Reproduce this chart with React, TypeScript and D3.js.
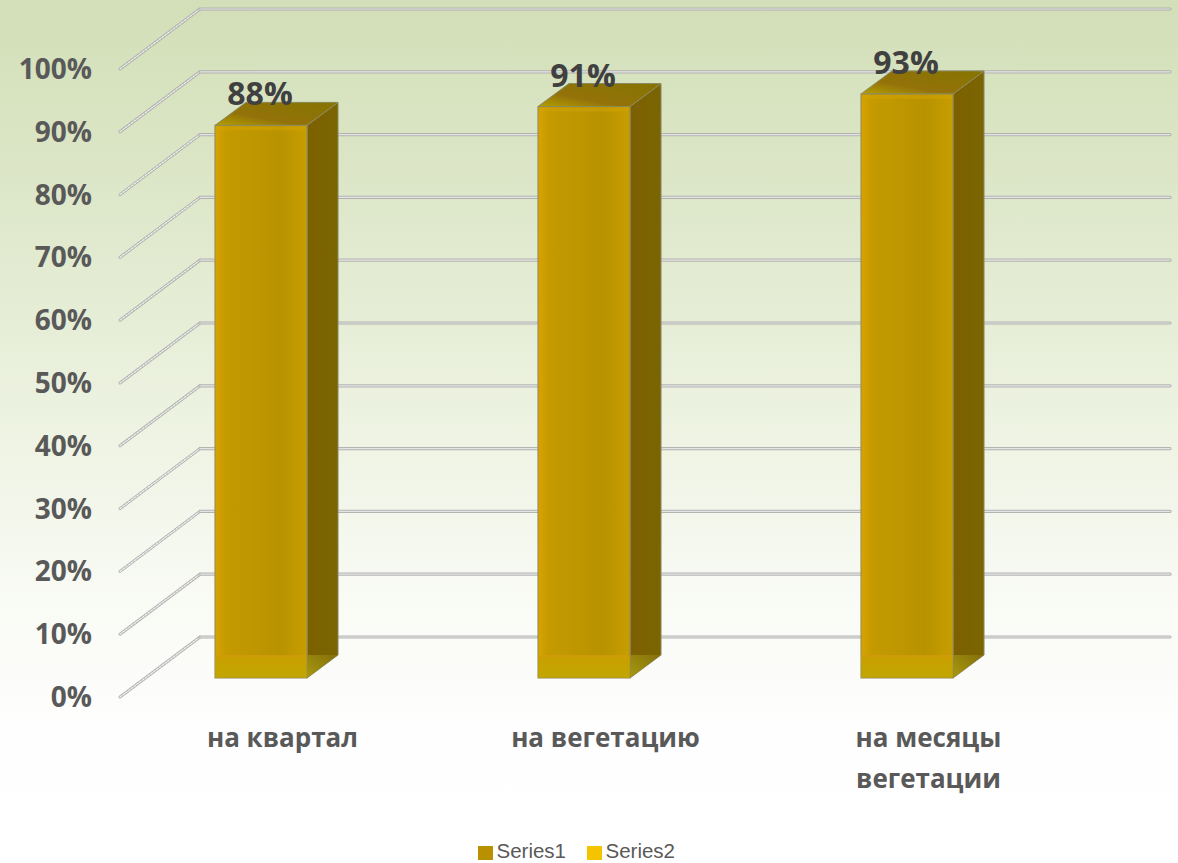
import React from "react";
import * as d3 from "d3";

const categories = ["на квартал", "на вегетацию", "на месяцы вегетации"];
const categoryLines = [["на квартал"], ["на вегетацию"], ["на месяцы", "вегетации"]];
const series1 = [0.88, 0.91, 0.93];
const valueLabels = ["88%", "91%", "93%"];
const ticks = [0, 0.1, 0.2, 0.3, 0.4, 0.5, 0.6, 0.7, 0.8, 0.9, 1];
const legendItems = ["Series1", "Series2"];
const legendColors = ["#b89000", "#f5c400"];

const W = 1178;
const H = 863;
const FONT = "'Open Sans', 'Noto Sans', sans-serif";

// Oblique projection: depth shifts a point right and up.
const wallDx = 80;
const wallDy = -60;
const barDx = 31;
const barDy = -23;
const gridLeft = 120;
const gridRight = 1170;

const y = d3.scaleLinear().domain([0, 1]).range([697, 69]);
const barBase = 678;
const barY = d3.scaleLinear().domain([0, 1]).range([barBase, barBase - 628]);
const x = d3.scaleBand<string>().domain(categories).range([99.5, 1068.5]).paddingInner(0.715).paddingOuter(0.3575);

function poly(pts: [number, number][]) {
  const p = d3.path();
  pts.forEach(([a, b], i) => (i ? p.lineTo(a, b) : p.moveTo(a, b)));
  p.closePath();
  return p.toString();
}

function GridLine({ t }: { t: number }) {
  const y0 = y(t);
  const backY = y0 + wallDy;
  const wall = `M${gridLeft},${y0}L${gridLeft + wallDx},${backY}`;
  const back = `M${gridLeft + wallDx},${backY}L${gridRight},${backY}`;
  return (
    <g fill="none" strokeLinecap="round">
      <path d={wall} stroke="#a6a6a6" strokeWidth={3} opacity={0.85} />
      <path d={wall} stroke="#f2f2f2" strokeWidth={1.2} strokeDasharray="2 1.5" />
      <path d={back} stroke="#adadad" strokeWidth={3.2} opacity={0.9} />
      <path d={back} stroke="#e4e4e4" strokeWidth={1.2} />
    </g>
  );
}

function Bar({ i }: { i: number }) {
  const cat = categories[i];
  const x0 = x(cat)!;
  const x1 = x0 + x.bandwidth();
  const top = barY(series1[i]);
  const bandTop = barBase - 22;
  return (
    <g>
      <path
        d={poly([[x1, top], [x1 + barDx, top + barDy], [x1 + barDx, barBase + barDy], [x1, barBase]])}
        fill="url(#sideFace)"
        stroke="#8d8a60"
        strokeWidth={1}
      />
      <path
        d={poly([[x0, top], [x0 + barDx, top + barDy], [x1 + barDx, top + barDy], [x1, top]])}
        fill="url(#topFace)"
        stroke="#8d8a60"
        strokeWidth={1}
      />
      {/* floor reflection on the lower part of the side face */}
      <path d={poly([[x1, barBase], [x1 + barDx - 1, barBase + barDy], [x1, barBase + barDy]])} fill="url(#sideFloor)" />
      <rect x={x0} y={top} width={x1 - x0} height={barBase - top} fill="url(#frontFace)" stroke="#8d8a60" strokeWidth={1} />
      <rect x={x0 + 1} y={top + 1} width={x1 - x0 - 2} height={4} fill="#d2a300" opacity={0.5} />
      <rect x={x0 + 0.5} y={bandTop} width={x1 - x0 - 1} height={barBase - bandTop - 0.5} fill="url(#floorBand)" />
      <rect x={x0 + 0.5} y={bandTop - 1} width={x1 - x0 - 1} height={2} fill="#d49a10" opacity={0.7} />
    </g>
  );
}

export default function App() {
  return (
    <svg
      width={W}
      height={H}
      viewBox={`0 0 ${W} ${H}`}
      style={{ position: "absolute", left: 0, top: 0, display: "block" }}
    >
      <defs>
        <linearGradient id="bg" x1="0" y1="0" x2="0" y2="1">
          <stop offset="0" stopColor="#d3dfb8" />
          <stop offset="0.2" stopColor="#dce6c7" />
          <stop offset="0.45" stopColor="#ebf1de" />
          <stop offset="0.7" stopColor="#f9fbf5" />
          <stop offset="0.85" stopColor="#fefefe" />
          <stop offset="1" stopColor="#ffffff" />
        </linearGradient>
        <linearGradient id="frontFace" x1="0" y1="0" x2="1" y2="0">
          <stop offset="0" stopColor="#d9a300" />
          <stop offset="0.12" stopColor="#c49a00" />
          <stop offset="0.7" stopColor="#b89300" />
          <stop offset="1" stopColor="#c79e00" />
        </linearGradient>
        <linearGradient id="sideFace" x1="0" y1="0" x2="1" y2="0">
          <stop offset="0" stopColor="#7d6000" />
          <stop offset="1" stopColor="#7a6502" />
        </linearGradient>
        <linearGradient id="sideFloor" x1="0" y1="1" x2="1" y2="0">
          <stop offset="0" stopColor="#a89a10" />
          <stop offset="1" stopColor="#85700a" />
        </linearGradient>
        <linearGradient id="topFace" x1="0" y1="1" x2="1" y2="0">
          <stop offset="0" stopColor="#b3a000" />
          <stop offset="0.35" stopColor="#93720a" />
          <stop offset="1" stopColor="#867400" />
        </linearGradient>
        <linearGradient id="floorBand" x1="0" y1="0" x2="0" y2="1">
          <stop offset="0" stopColor="#c9a000" />
          <stop offset="1" stopColor="#c2a600" />
        </linearGradient>
      </defs>

      <rect width={W} height={H} fill="url(#bg)" />

      {ticks.map((t) => (
        <GridLine key={t} t={t} />
      ))}

      {ticks.map((t) => (
        <text
          key={t}
          x={92}
          y={y(t) + 10}
          textAnchor="end"
          fontFamily={FONT}
          fontWeight={700}
          fontSize={28}
          fill="#595959"
        >
          {d3.format(".0%")(t)}
        </text>
      ))}

      {categories.map((c, i) => (
        <Bar key={c} i={i} />
      ))}

      {categories.map((c, i) => (
        <text
          key={c}
          x={x(c)! + x.bandwidth() / 2 - 1}
          y={barY(series1[i]) - 20}
          textAnchor="middle"
          fontFamily={FONT}
          fontWeight={700}
          fontSize={32}
          fill="#404040"
        >
          {valueLabels[i]}
        </text>
      ))}

      {categories.map((c, i) =>
        categoryLines[i].map((line, k) => (
          <text
            key={line}
            x={x(c)! + x.bandwidth() / 2 + 21.5}
            y={747 + k * 41}
            textAnchor="middle"
            fontFamily={FONT}
            fontWeight={700}
            fontSize={26}
            fill="#595959"
          >
            {line}
          </text>
        ))
      )}

      {legendItems.map((name, i) => (
        <g key={name} transform={`translate(${478 + i * 109},846)`}>
          <rect width={15} height={14} fill={legendColors[i]} />
          <text x={18.5} y={12} fontFamily="'Liberation Sans', Arial, sans-serif" fontSize={20.5} fill="#595959">
            {name}
          </text>
        </g>
      ))}
    </svg>
  );
}
